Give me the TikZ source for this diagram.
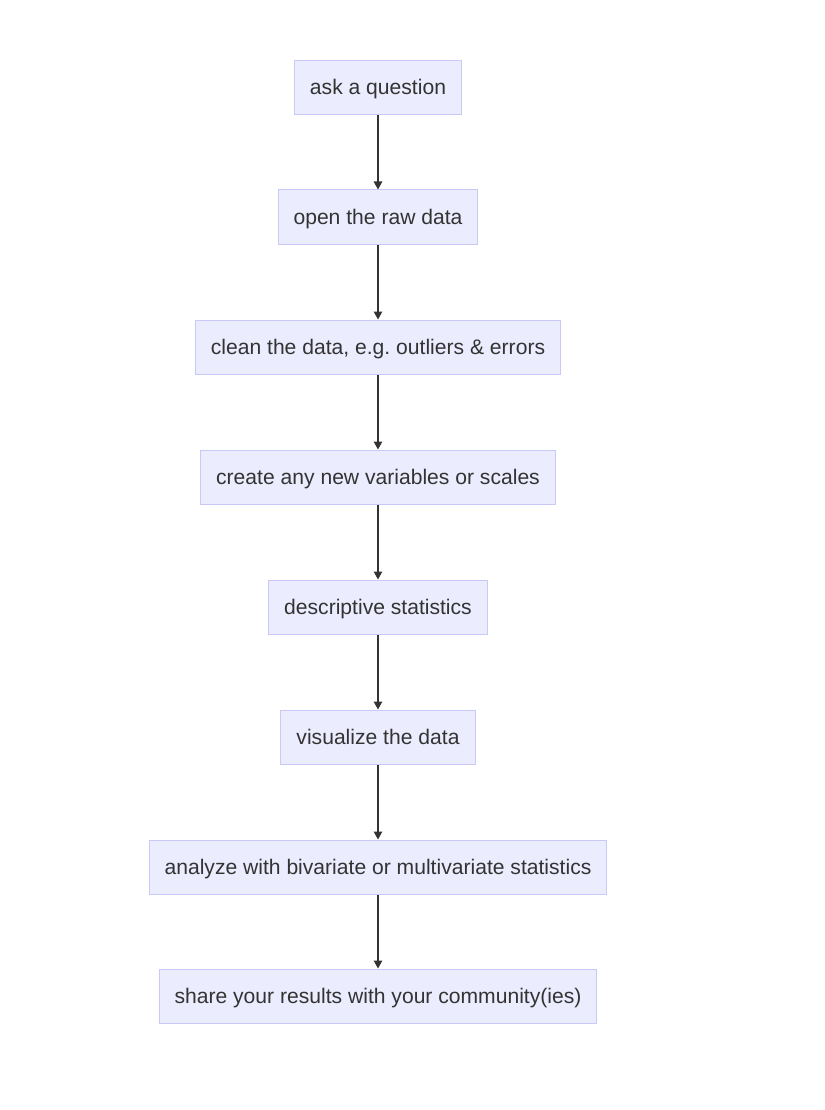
\documentclass[tikz,border=0pt]{standalone}
\usepackage{fontspec}
\setmainfont{Liberation Sans}
\usetikzlibrary{arrows.meta}
\definecolor{boxfill}{HTML}{ECECFF}
\definecolor{boxline}{HTML}{C9C9F7}
\definecolor{ink}{HTML}{333333}
\frenchspacing
\begin{document}
\begin{tikzpicture}[x=1pt,y=-1pt,
  stepbox/.style={draw=boxline, fill=boxfill, line width=1pt, minimum height=54pt,
    inner xsep=15.5pt, text=ink, font=\fontsize{21.1}{25}\selectfont,
    text height=16.5pt, text depth=1.5pt, anchor=center},
  flow/.style={draw=ink, line width=1.3pt, -{Triangle[length=8pt,width=8.5pt]}}]
\useasboundingbox (0,0) rectangle (824,1110);
\node[stepbox] (n1) at (378,87.5) {ask a question};
\node[stepbox] (n2) at (378,217) {open the raw data};
\node[stepbox] (n3) at (378,347) {clean the data, e.g. outliers \& errors};
\node[stepbox] (n4) at (378,477) {create any new variables or scales};
\node[stepbox] (n5) at (378,607) {descriptive statistics};
\node[stepbox] (n6) at (378,737) {visualize the data};
\node[stepbox] (n7) at (378,867) {analyze with bivariate or multivariate statistics};
\node[stepbox] (n8) at (378,996) {share your results with your community(ies)};
\foreach \a/\b in {n1/n2,n2/n3,n3/n4,n4/n5,n5/n6,n6/n7,n7/n8}
  \draw[flow] (\a) -- (\b);
\end{tikzpicture}
\end{document}
